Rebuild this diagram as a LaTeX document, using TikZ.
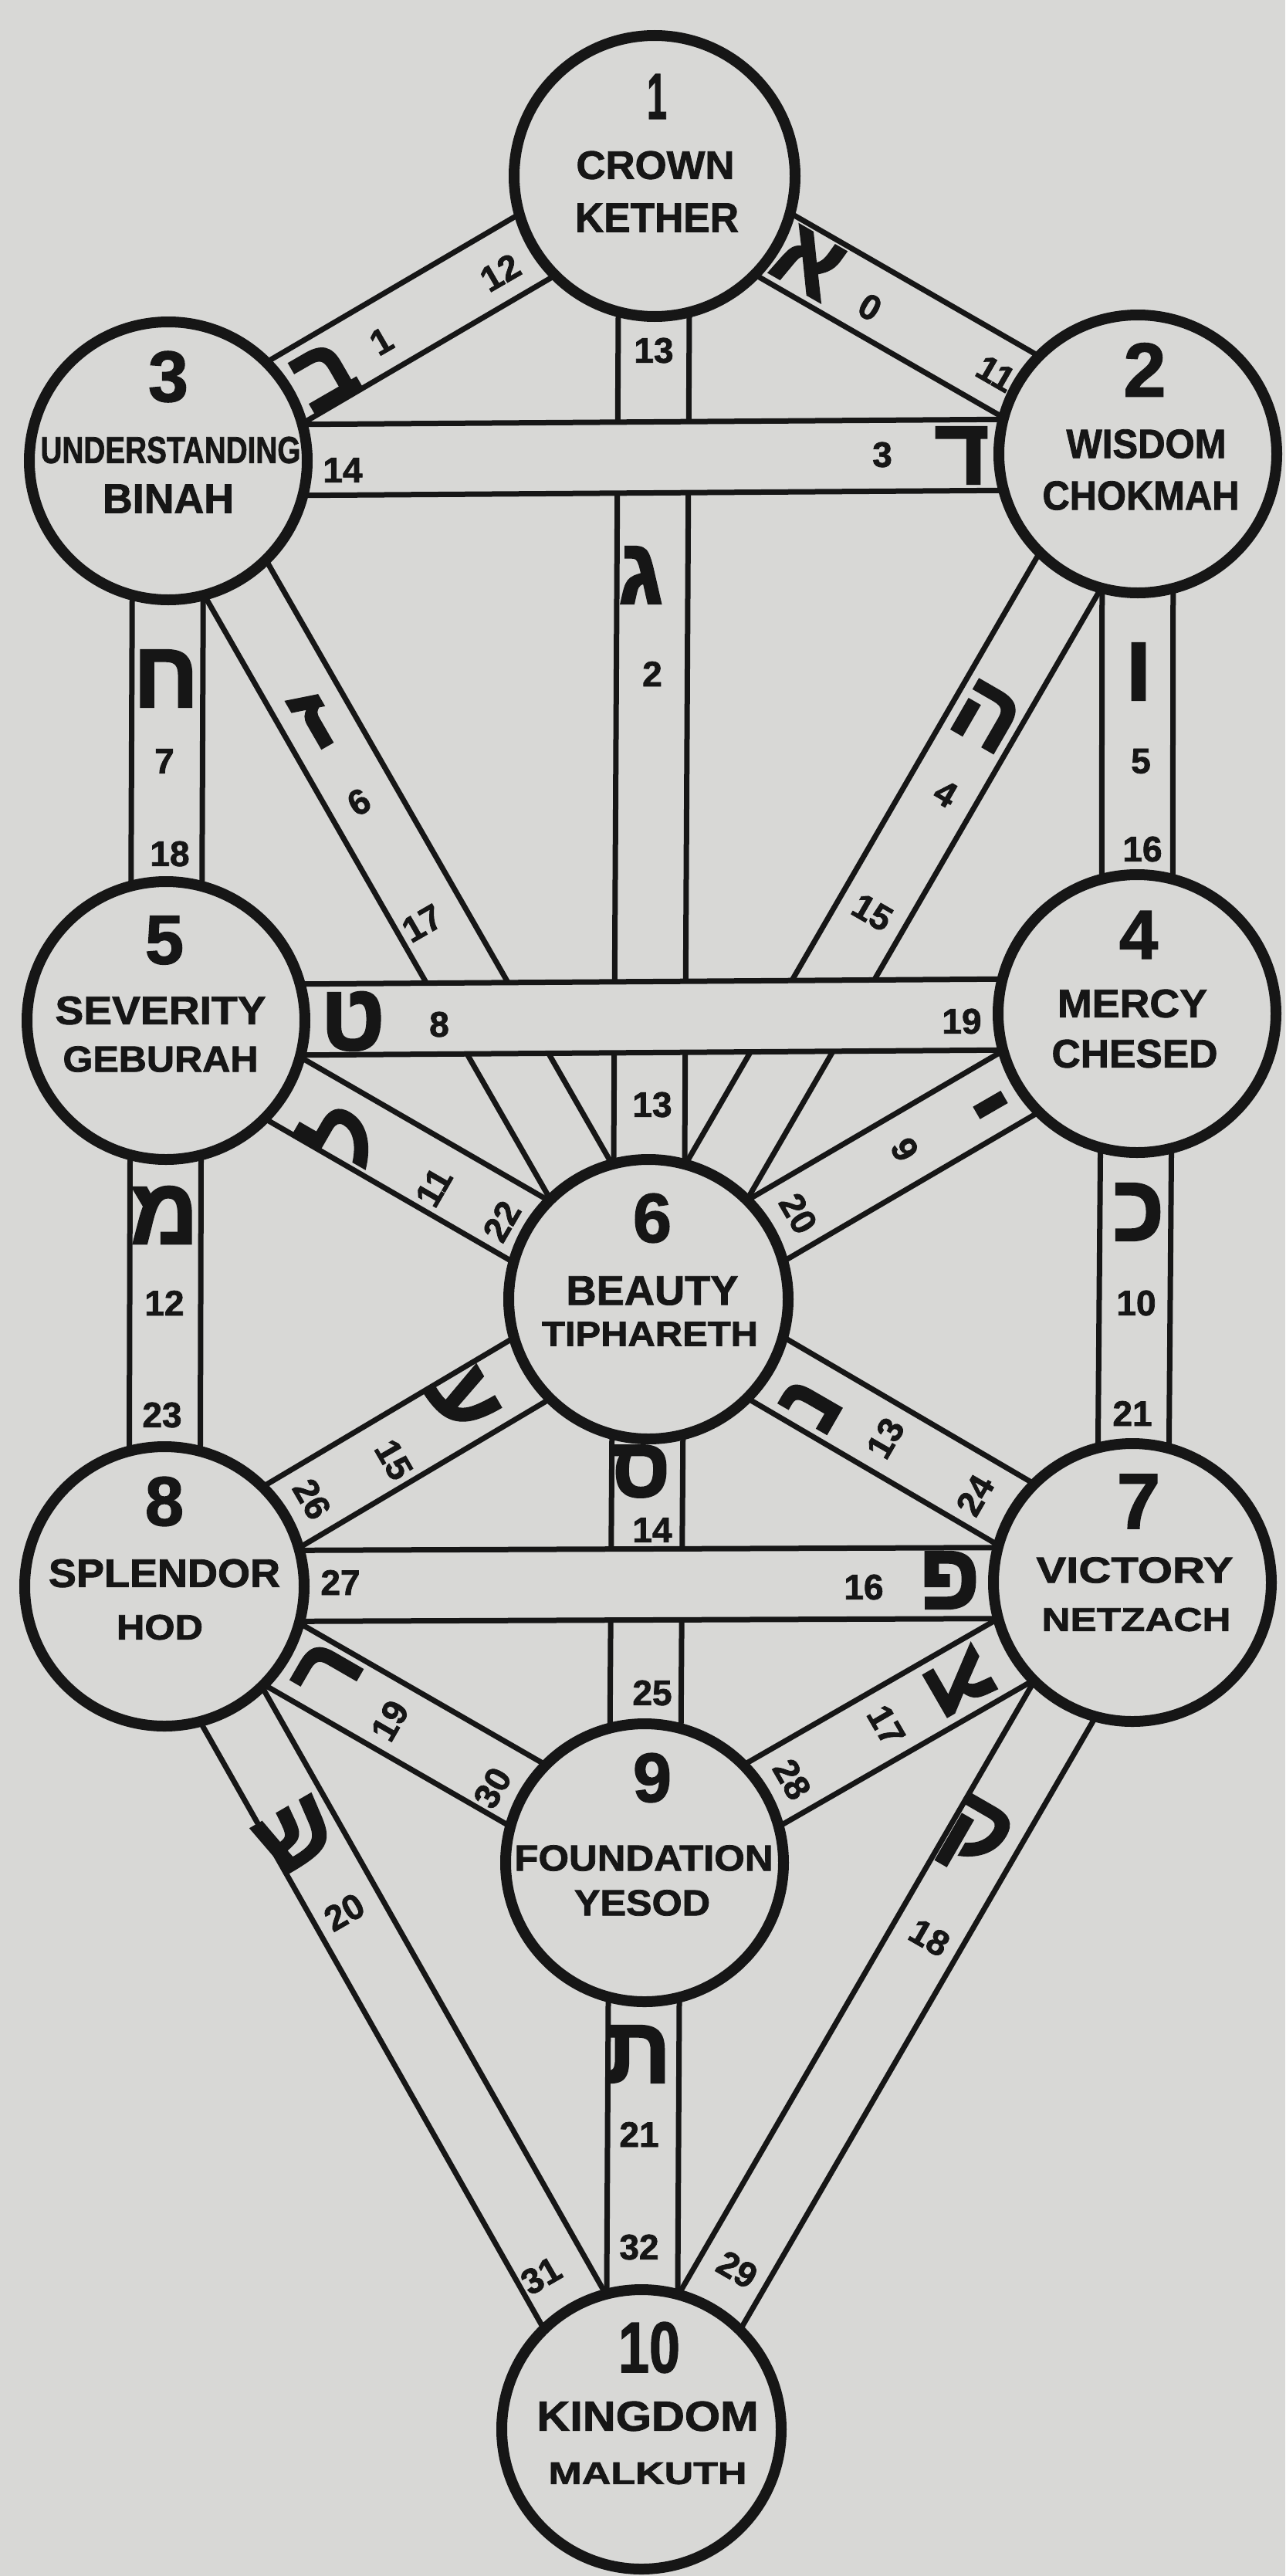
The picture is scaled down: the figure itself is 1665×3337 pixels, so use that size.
\documentclass[tikz,border=0pt]{standalone}
\usepackage{fontspec}
\setmainfont{Liberation Sans}
\newfontfamily\heavyfont[BoldFeatures={FakeBold=1.6}]{Liberation Sans}
\newfontfamily\hebfont[Script=Hebrew,BoldFeatures={FakeBold=2}]{Liberation Sans}
\usetikzlibrary{calc}
\TeXXeTstate=1
\definecolor{paper}{RGB}{216,216,214}
\definecolor{ink}{RGB}{22,22,22}
\tikzset{
  sephira/.style={circle, draw=ink, fill=paper, line width=14pt, minimum size=#1, inner sep=0pt},
  bandline/.style={draw=ink, line width=7pt},
  pathnum/.style={inner sep=0pt, text=ink, font=\heavyfont\fontsize{46}{46}\selectfont\bfseries},
  hebl/.style={inner sep=0pt, text=ink, font=\hebfont\fontsize{122}{122}\selectfont\bfseries},
  seftext/.style={inner sep=0pt, text=ink, font=\heavyfont\bfseries},
}
\newcommand\band[2]{%
  \fill[paper] ($(#1)!46pt!90:(#2)$) -- ($(#2)!46pt!-90:(#1)$) -- ($(#2)!46pt!90:(#1)$) -- ($(#1)!46pt!-90:(#2)$) -- cycle;
  \draw[bandline] ($(#1)!46pt!90:(#2)$) -- ($(#2)!46pt!-90:(#1)$);
  \draw[bandline] ($(#1)!46pt!-90:(#2)$) -- ($(#2)!46pt!90:(#1)$);
}
\newcommand\heb[1]{\beginR #1\endR}
\newcommand\fitbox[3]{\resizebox{#1pt}{#2pt}{#3}}
\begin{document}
\begin{tikzpicture}[x=1pt,y=-1pt]
\fill[paper] (0,0) rectangle (1665,3337);
\useasboundingbox (0,0) rectangle (1665,3337);
% centres
\coordinate (K)  at (848,228);
\coordinate (Ch) at (1474,588);
\coordinate (B)  at (218,597);
\coordinate (Cs) at (1473,1313);
\coordinate (G)  at (215,1322);
\coordinate (T)  at (840,1683);
\coordinate (N)  at (1467,2050);
\coordinate (H)  at (213,2055);
\coordinate (Y)  at (835,2413);
\coordinate (M)  at (831,3147);
% non-horizontal paths
\band{K}{Ch}
\band{K}{B}
\band{K}{T}
\band{Ch}{T}
\band{Ch}{Cs}
\band{B}{T}
\band{B}{G}
\band{Cs}{T}
\band{Cs}{N}
\band{G}{T}
\band{G}{H}
\band{T}{N}
\band{T}{Y}
\band{T}{H}
\band{N}{Y}
\band{N}{M}
\band{H}{Y}
\band{H}{M}
\band{Y}{M}
% horizontal paths on top
\band{B}{Ch}
\band{G}{Cs}
\band{H}{N}
% sephiroth
\node[sephira=364pt] (k)  at (K)  {};
\node[sephira=360pt] (ch) at (Ch) {};
\node[sephira=360pt] (b)  at (B)  {};
\node[sephira=360pt] (cs) at (Cs) {};
\node[sephira=360pt] (g)  at (G)  {};
\node[sephira=362pt] (t)  at (T)  {};
\node[sephira=360pt] (n)  at (N)  {};
\node[sephira=362pt] (h)  at (H)  {};
\node[sephira=360pt] (y)  at (Y)  {};
\node[sephira=362pt] (m)  at (M)  {};
% sephiroth texts
\node[seftext] (k1) at (851,125) {\fitbox{26}{58}{1}};
\node[seftext] (k2) at (849,214) {\fitbox{205}{36}{CROWN}};
\node[seftext] (k3) at (851,282) {\fitbox{212}{37}{KETHER}};
\node[seftext] (ch1) at (1483,479) {\resizebox{!}{69pt}{2}};
\node[seftext] (ch2) at (1485,575) {\fitbox{207}{37}{WISDOM}};
\node[seftext] (ch3) at (1478,642) {\fitbox{255}{37}{CHOKMAH}};
\node[seftext] (b1) at (218,488) {\resizebox{!}{65pt}{3}};
\node[seftext] (b2) at (221,583) {\fitbox{337}{34}{UNDERSTANDING}};
\node[seftext] (b3) at (218,646) {\fitbox{170}{37}{BINAH}};
\node[seftext] (cs1) at (1475,1211) {\resizebox{!}{62pt}{4}};
\node[seftext] (cs2) at (1467,1300) {\fitbox{194}{36}{MERCY}};
\node[seftext] (cs3) at (1470,1365) {\fitbox{215}{36}{CHESED}};
\node[seftext] (g1) at (213,1218) {\resizebox{!}{62pt}{5}};
\node[seftext] (g2) at (208,1309) {\fitbox{273}{36}{SEVERITY}};
\node[seftext] (g3) at (208,1372) {\fitbox{253}{33}{GEBURAH}};
\node[seftext] (t1) at (845,1578) {\resizebox{!}{63pt}{6}};
\node[seftext] (t2) at (845,1672) {\fitbox{223}{37}{BEAUTY}};
\node[seftext] (t3) at (842,1728) {\fitbox{280}{31}{TIPHARETH}};
\node[seftext] (n1) at (1475,1945) {\resizebox{!}{70pt}{7}};
\node[seftext] (n2) at (1470,2034) {\fitbox{255}{33}{VICTORY}};
\node[seftext] (n3) at (1472,2098) {\fitbox{245}{30}{NETZACH}};
\node[seftext] (h1) at (213,1945) {\resizebox{!}{63pt}{8}};
\node[seftext] (h2) at (213,2038) {\fitbox{300}{36}{SPLENDOR}};
\node[seftext] (h3) at (207,2108) {\fitbox{112}{32}{HOD}};
\node[seftext] (y1) at (845,2303) {\resizebox{!}{63pt}{9}};
\node[seftext] (y2) at (834,2407) {\fitbox{335}{33}{FOUNDATION}};
\node[seftext] (y3) at (832,2465) {\fitbox{176}{33}{YESOD}};
\node[seftext] (m1) at (841,3041) {\fitbox{80}{65}{10}};
\node[seftext] (m2) at (839,3130) {\fitbox{287}{38}{KINGDOM}};
\node[seftext] (m3) at (839,3204) {\fitbox{257}{28}{MALKUTH}};
% path numbers
\node[pathnum,rotate=30] (p1a) at (494,442) {1};
\node[pathnum,rotate=30] (p1b) at (648,353) {12};
\node[pathnum,rotate=-30] (p0a) at (1127,398) {0};
\node[pathnum,rotate=-30] (p0b) at (1290,484) {11};
\node[pathnum] (p2a) at (847,454) {13};
\node[pathnum] (p2b) at (845,873) {2};
\node[pathnum] (p2c) at (845,1431) {13};
\node[pathnum] (p3a) at (1143,589) {3};
\node[pathnum] (p3b) at (444,609) {14};
\node[pathnum,rotate=-30] (p4a) at (1225,1028) {4};
\node[pathnum,rotate=-30] (p4b) at (1130,1182) {15};
\node[pathnum] (p5a) at (1478,986) {5};
\node[pathnum] (p5b) at (1480,1100) {16};
\node[pathnum,rotate=30] (p6a) at (465,1039) {6};
\node[pathnum,rotate=30] (p6b) at (547,1196) {17};
\node[pathnum] (p7a) at (213,986) {7};
\node[pathnum] (p7b) at (220,1106) {18};
\node[pathnum] (p8a) at (569,1327) {8};
\node[pathnum] (p8b) at (1246,1323) {19};
\node[pathnum,rotate=-60] (p9a) at (1172,1489) {9};
\node[pathnum,rotate=-60] (p9b) at (1034,1572) {20};
\node[pathnum] (p10a) at (1472,1688) {10};
\node[pathnum] (p10b) at (1467,1831) {21};
\node[pathnum,rotate=60] (p11a) at (562,1538) {11};
\node[pathnum,rotate=60] (p11b) at (650,1582) {22};
\node[pathnum] (p12a) at (213,1688) {12};
\node[pathnum] (p12b) at (210,1833) {23};
\node[pathnum,rotate=60] (p13a) at (1147,1863) {13};
\node[pathnum,rotate=60] (p13b) at (1263,1937) {24};
\node[pathnum] (p14a) at (845,1982) {14};
\node[pathnum] (p14b) at (845,2193) {25};
\node[pathnum,rotate=-60] (p15a) at (510,1891) {15};
\node[pathnum,rotate=-60] (p15b) at (404,1942) {26};
\node[pathnum] (p16a) at (1119,2056) {16};
\node[pathnum] (p16b) at (441,2050) {27};
\node[pathnum,rotate=-60] (p17a) at (1148,2235) {17};
\node[pathnum,rotate=-60] (p17b) at (1026,2305) {28};
\node[pathnum,rotate=-30] (p18a) at (1204,2510) {18};
\node[pathnum,rotate=-30] (p18b) at (955,2940) {29};
\node[pathnum,rotate=60] (p19a) at (505,2229) {19};
\node[pathnum,rotate=60] (p19b) at (638,2316) {30};
\node[pathnum,rotate=30] (p20a) at (446,2477) {20};
\node[pathnum,rotate=30] (p20b) at (701,2948) {31};
\node[pathnum] (p21a) at (828,2765) {21};
\node[pathnum] (p21b) at (828,2911) {32};
% hebrew letters
\node[hebl,rotate=30] (l2) at (420,487) {\heb{ב}};
\node[hebl,rotate=-30] (l1) at (1047,340) {\heb{א}};
\node[hebl] (l3) at (830,745) {\heb{ג}};
\node[hebl] (l4) at (1246,590) {\heb{ד}};
\node[hebl,rotate=-30] (l5) at (1278,928) {\heb{ה}};
\node[hebl] (l6) at (1475,870) {\heb{ו}};
\node[hebl,rotate=30] (l7) at (406,932) {\heb{ז}};
\node[hebl] (l8) at (215,879) {\heb{ח}};
\node[hebl] (l9) at (457,1323) {\heb{ט}};
\node[hebl,rotate=-60] (l10) at (1268,1440) {\heb{י}};
\node[hebl] (l11) at (1475,1570) {\heb{כ}};
\node[hebl,rotate=60] (l12) at (440,1468) {\heb{ל}};
\node[hebl] (l13) at (213,1574) {\heb{מ}};
\node[hebl,rotate=60] (l14) at (1050,1820) {\heb{נ}};
\node[hebl,font=\hebfont\fontsize{110}{110}\selectfont\bfseries] (l15) at (830,1906) {\heb{ס}};
\node[hebl,rotate=-60] (l16) at (600,1815) {\heb{ע}};
\node[hebl] (l17) at (1230,2047) {\heb{פ}};
\node[hebl,rotate=-60] (l18) at (1244,2179) {\heb{צ}};
\node[hebl,rotate=-30] (l19) at (1262,2382) {\heb{ק}};
\node[hebl,rotate=60] (l20) at (425,2166) {\heb{ר}};
\node[hebl,rotate=30] (l21) at (383,2378) {\heb{ש}};
\node[hebl] (l22) at (826,2661) {\heb{ת}};
\end{tikzpicture}
\end{document}
